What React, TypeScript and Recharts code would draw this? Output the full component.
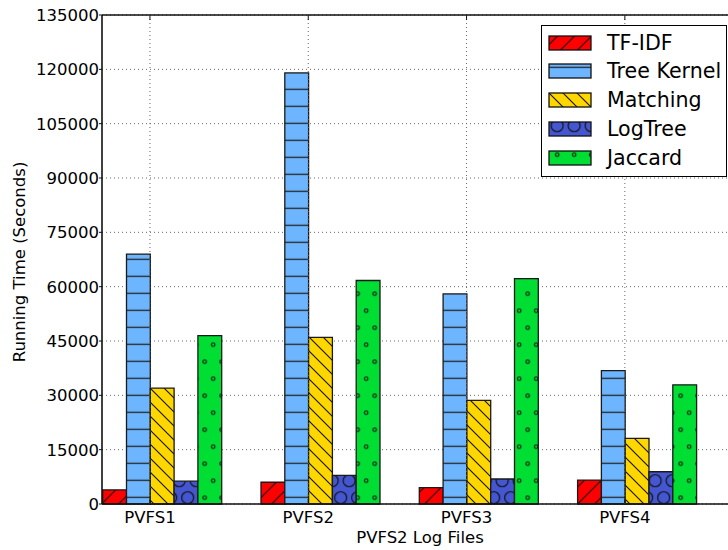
import { Bar, BarChart, CartesianGrid, Legend, ReferenceLine, XAxis, YAxis } from "recharts";

const categories = ["PVFS1", "PVFS2", "PVFS3", "PVFS4"];
const tfidf = [3900, 6000, 4500, 6600];
const treeKernel = [69000, 119000, 58000, 36800];
const matching = [32000, 46000, 28600, 18100];
const logTree = [6300, 7900, 6900, 8900];
const jaccard = [46500, 61700, 62200, 32900];
const yTicks = [0, 15000, 30000, 45000, 60000, 75000, 90000, 105000, 120000, 135000];

const data = categories.map((name, i) => ({
  name,
  tfidf: tfidf[i],
  treeKernel: treeKernel[i],
  matching: matching[i],
  logTree: logTree[i],
  jaccard: jaccard[i],
}));

const series = [
  { key: "tfidf", label: "TF-IDF", fill: "url(#pTF)" },
  { key: "treeKernel", label: "Tree Kernel", fill: "url(#pTK)" },
  { key: "matching", label: "Matching", fill: "url(#pM)" },
  { key: "logTree", label: "LogTree", fill: "url(#pLT)" },
  { key: "jaccard", label: "Jaccard", fill: "url(#pJ)" },
];

const FONT = "'DejaVu Sans', sans-serif";
const BAR = 23.8;
const TOP = 15;
const BOTTOM = 504;

function XTick(props: any) {
  const { x, payload } = props;
  const tx = x - BAR / 2;
  return (
    <g>
      <line x1={tx} x2={tx} y1={TOP} y2={BOTTOM} stroke="#666" strokeDasharray="1 3" />
      <line x1={tx} x2={tx} y1={BOTTOM} y2={BOTTOM - 5} stroke="#111" />
      <line x1={tx} x2={tx} y1={TOP} y2={TOP + 5} stroke="#111" />
      <text x={tx} y={523} textAnchor="middle" fontFamily={FONT} fontSize={16.5} fill="#000">
        {payload.value}
      </text>
    </g>
  );
}

function LegendBox() {
  return (
    <div
      style={{
        border: "1px solid #000",
        background: "#fff",
        width: 186,
        height: 152,
        boxSizing: "border-box",
        position: "relative",
        fontFamily: FONT,
        fontSize: 20.6,
        color: "#000",
      }}
    >
      {series.map((s, i) => (
        <div
          key={s.key}
          style={{ position: "absolute", left: 6, top: 8.5 + i * 28.9, display: "flex", alignItems: "center", height: 16 }}
        >
          <svg width={44} height={16}>
            <rect x={1} y={1} width={42} height={14} fill={s.fill} stroke="#111" strokeWidth={1.3} />
          </svg>
          <span style={{ marginLeft: 15, lineHeight: "16px", whiteSpace: "nowrap" }}>{s.label}</span>
        </div>
      ))}
    </div>
  );
}

export default function App() {
  return (
    <div style={{ position: "absolute", left: 0, top: 0, width: 728, height: 550, overflow: "hidden", background: "#fff" }}>
      <BarChart width={760} height={550} data={data} margin={{ top: TOP, right: 24, bottom: 0, left: 0 }} barGap={0} barSize={BAR}>
        <defs>
          <pattern id="pTF" patternUnits="userSpaceOnUse" width={17} height={17} x={-6.4} y={0}>
            <rect width={17} height={17} fill="#ff0000" />
            <path d="M0,17 L17,0 M-2,2 L2,-2 M15,19 L19,15" stroke="#111" strokeWidth={1.1} />
          </pattern>
          <pattern id="pTK" patternUnits="userSpaceOnUse" width={17} height={17} x={0} y={-4.2}>
            <rect width={17} height={17} fill="#6db6ff" />
            <path d="M0,8.5 H17" stroke="#222" strokeWidth={1.3} />
          </pattern>
          <pattern id="pM" patternUnits="userSpaceOnUse" width={14} height={14} x={0} y={0}>
            <rect width={14} height={14} fill="#ffd700" />
            <path d="M0,0 L14,14 M-2,12 L2,16 M12,-2 L16,2" stroke="#111" strokeWidth={1.1} />
          </pattern>
          <pattern id="pLT" patternUnits="userSpaceOnUse" width={17} height={34} x={-7.8} y={13.2}>
            <rect width={17} height={34} fill="#4456d0" />
            <circle cx={8.5} cy={8.5} r={6} fill="none" stroke="#111" strokeWidth={1.2} />
            <circle cx={0} cy={25.5} r={6} fill="none" stroke="#111" strokeWidth={1.2} />
            <circle cx={17} cy={25.5} r={6} fill="none" stroke="#111" strokeWidth={1.2} />
          </pattern>
          <pattern id="pJ" patternUnits="userSpaceOnUse" width={17} height={34} x={-7.8} y={13.2}>
            <rect width={17} height={34} fill="#00dd33" />
            <circle cx={8.5} cy={8.5} r={1.8} fill="none" stroke="#111" strokeWidth={1.1} />
            <circle cx={0} cy={25.5} r={1.8} fill="none" stroke="#111" strokeWidth={1.1} />
            <circle cx={17} cy={25.5} r={1.8} fill="none" stroke="#111" strokeWidth={1.1} />
          </pattern>
        </defs>
        <CartesianGrid vertical={false} stroke="#666" strokeDasharray="1 3" />
        <XAxis
          dataKey="name"
          height={46}
          padding={{ left: -19.3, right: 20.1 }}
          tick={<XTick />}
          tickLine={false}
          axisLine={{ stroke: "#111", strokeWidth: 1.6 }}
          interval={0}
          label={{
            content: () => (
              <text x={420} y={543} textAnchor="middle" fontFamily={FONT} fontSize={16.5} fill="#000">
                PVFS2 Log Files
              </text>
            ),
          }}
        />
        <YAxis
          width={102}
          type="number"
          domain={[0, 135000]}
          ticks={yTicks}
          interval={0}
          tickSize={3}
          tickMargin={0}
          tick={{ fontFamily: FONT, fontSize: 16.5, fill: "#000" }}
          tickLine={{ stroke: "#111" }}
          axisLine={{ stroke: "#111", strokeWidth: 1.6 }}
          label={{
            content: () => (
              <text
                x={19}
                y={262}
                transform="rotate(-90 19 262)"
                textAnchor="middle"
                dominantBaseline="central"
                fontFamily={FONT}
                fontSize={16.5}
                fill="#000"
              >
                Running Time (Seconds)
              </text>
            ),
          }}
        />
        <ReferenceLine y={135000} stroke="#111" strokeWidth={1.6} />
        {series.map((s) => (
          <Bar
            key={s.key}
            dataKey={s.key}
            name={s.label}
            fill={s.fill}
            stroke="#1a1a1a"
            strokeWidth={1.3}
            isAnimationActive={false}
          />
        ))}
        <Legend
          layout="vertical"
          align="center"
          verticalAlign="middle"
          content={<LegendBox />}
          wrapperStyle={{ left: 541, top: 25, width: 186, height: 152 }}
        />
      </BarChart>
    </div>
  );
}
